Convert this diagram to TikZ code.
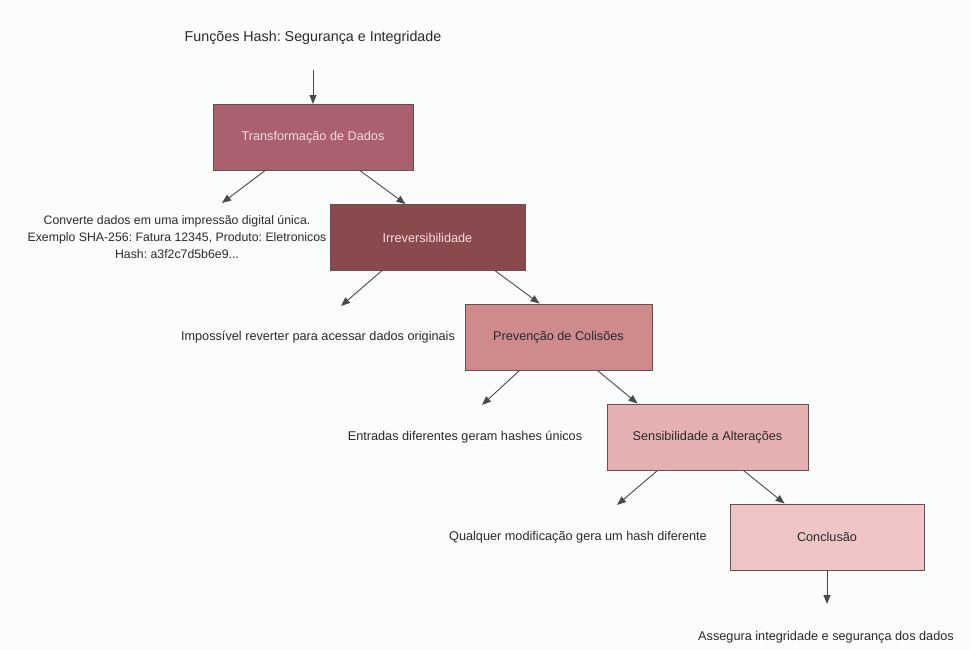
\documentclass[tikz,border=0pt]{standalone}
\usepackage{fontspec}
\setmainfont{Liberation Sans}
\usetikzlibrary{arrows.meta}
\frenchspacing
\definecolor{bgc}{HTML}{FBFCFC}
\definecolor{c1}{HTML}{AA606F}
\definecolor{c2}{HTML}{8A4A4D}
\definecolor{c3}{HTML}{CF8B8B}
\definecolor{c4}{HTML}{E5B0B1}
\definecolor{c5}{HTML}{F0C5C5}
\definecolor{bord}{HTML}{6B4E50}
\definecolor{lt}{HTML}{F6DADF}
\definecolor{dk}{HTML}{2A2A2A}
\begin{document}
\begin{tikzpicture}[x=1pt,y=-1pt,
  every node/.style={font=\fontsize{12.7}{17}\selectfont\frenchspacing, text=dk},
  stepbox/.style={draw=bord, line width=0.9pt, rectangle, inner sep=0pt, minimum height=66pt},
  desc/.style={align=center, inner sep=0pt},
  conn/.style={draw=dk!85, line width=0.9pt, -{Triangle[length=9pt,width=7pt]}}]
\fill[bgc] (0,0) rectangle (970,650);
\useasboundingbox (0,0) rectangle (970,650);
\node[desc, font=\fontsize{14.3}{17}\selectfont\frenchspacing] (title) at (313,38) {Funções Hash: Segurança e Integridade};
\coordinate (tstart) at (313,70);
\node[stepbox, fill=c1, minimum width=200pt, text=lt] (b1) at (313,137.5) {Transformação de Dados};
\node[stepbox, fill=c2, minimum width=195pt, text=lt] (b2) at (427.5,237.5) {Irreversibilidade};
\node[stepbox, fill=c3, minimum width=187pt] (b3) at (558.5,337) {Prevenção de Colisões};
\node[stepbox, fill=c4, minimum width=201pt] (b4) at (707.5,437) {Sensibilidade a Alterações};
\node[stepbox, fill=c5, minimum width=194pt] (b5) at (827,537) {Conclusão};
\node[desc, font=\fontsize{12.3}{17}\selectfont\frenchspacing] (d1) at (177,237) {Converte dados em uma impressão digital única.\\Exemplo SHA-256: Fatura 12345, Produto: Eletronicos\\Hash: a3f2c7d5b6e9...};
\node[desc] (d2) at (318,337) {Impossível reverter para acessar dados originais};
\node[desc] (d3) at (465,437) {Entradas diferentes geram hashes únicos};
\node[desc] (d4) at (578,537) {Qualquer modificação gera um hash diferente};
\node[desc] (d5) at (826,637) {Assegura integridade e segurança dos dados};
\coordinate (e1) at (222,203);
\coordinate (e2) at (341,306);
\coordinate (e3) at (482,405);
\coordinate (e4) at (617,505);
\coordinate (e5) at (827,604);
\draw[conn] (tstart) -- (b1.north);
\draw[conn] ([xshift=52pt]b1.south west) -- (e1);
\draw[conn] ([xshift=-53pt]b1.south east) -- ([xshift=76pt]b2.north west);
\draw[conn] ([xshift=52pt]b2.south west) -- (e2);
\draw[conn] ([xshift=-30pt]b2.south east) -- ([xshift=75pt]b3.north west);
\draw[conn] ([xshift=55pt]b3.south west) -- (e3);
\draw[conn] ([xshift=-55pt]b3.south east) -- ([xshift=31pt]b4.north west);
\draw[conn] ([xshift=51pt]b4.south west) -- (e4);
\draw[conn] ([xshift=-65pt]b4.south east) -- ([xshift=55pt]b5.north west);
\draw[conn] (b5.south) -- (e5);
\end{tikzpicture}
\end{document}
